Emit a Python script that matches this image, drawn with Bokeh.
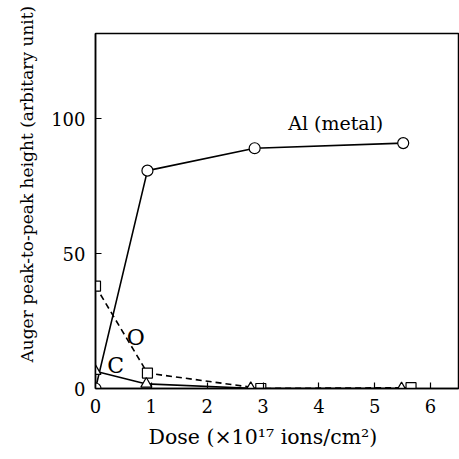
import numpy as np
from bokeh.plotting import figure
from bokeh.models import Label, FixedTicker, Range1d, Title
from bokeh.embed import file_html
from bokeh.resources import INLINE

# Data
al_dose = [0, 0.93, 2.85, 5.51]
al_val = [0, 80.7, 89.0, 90.9]
o_dose = [0, 0.93, 2.96, 5.65]
o_val = [37.9, 5.7, 0.0, 0.3]
c_dose = [0, 0.91, 2.78, 5.48]
c_val = [6.4, 1.7, 0.1, 0.0]
x_ticks = [0, 1, 2, 3, 4, 5, 6]
y_ticks = [0, 50, 100]

FONT = "DejaVu Serif"

p = figure(width=459, height=459, output_backend="svg", toolbar_location=None,
           x_range=Range1d(0, 6.5), y_range=Range1d(0, 131.5),
           min_border_left=95, min_border_right=1, min_border_top=33, min_border_bottom=71)
p.grid.visible = False
p.outline_line_color = "black"
p.outline_line_width = 1.5
p.background_fill_color = "white"
p.border_fill_color = "white"

for ax in (p.xaxis[0], p.yaxis[0]):
    ax.axis_line_width = 1.5
    ax.axis_line_color = "black"
    ax.major_tick_in = 6
    ax.major_tick_out = 0
    ax.minor_tick_line_color = None
    ax.major_tick_line_width = 1.2
    ax.major_tick_line_color = "black"
    ax.major_label_text_font = FONT
    ax.major_label_text_font_size = "18px"
    ax.major_label_text_color = "black"
    ax.major_label_standoff = 10
p.xaxis.ticker = FixedTicker(ticks=x_ticks)
p.yaxis.ticker = FixedTicker(ticks=y_ticks)

# Al (metal)
p.line(al_dose, al_val, line_color="black", line_width=1.6)
p.scatter(al_dose, al_val, marker="circle", size=11, fill_color="white", line_color="black", line_width=1.2)
# O (dashed)
p.line(o_dose, o_val, line_color="black", line_width=1.6, line_dash="6 4")
p.scatter(o_dose, o_val, marker="square", size=10, fill_color="white", line_color="black", line_width=1.2)
# C
p.line(c_dose, c_val, line_color="black", line_width=1.6)
p.scatter(c_dose, c_val, marker="triangle", size=11, fill_color="white", line_color="black", line_width=1.2)

p.add_layout(Label(x=4.3, y=98.5, text="Al (metal)", text_font=FONT, text_font_size="19px",
                   text_color="black", text_align="center", text_baseline="middle"))
p.add_layout(Label(x=0.72, y=18.9, text="O", text_font=FONT, text_font_size="22px",
                   text_color="black", text_align="center", text_baseline="middle"))
p.add_layout(Label(x=0.36, y=8.5, text="C", text_font=FONT, text_font_size="22px",
                   text_color="black", text_align="center", text_baseline="middle"))

# axis titles
p.add_layout(Title(text="Dose (\u00d710\u00b9\u2077 ions/cm\u00b2)", text_font=FONT, text_font_size="20.5px",
                   text_color="black", text_font_style="normal", align="left", offset=53, standoff=15), "below")
p.add_layout(Title(text="Auger peak-to-peak height (arbitary unit)", text_font=FONT, text_font_size="17px",
                   text_color="black", text_font_style="normal", align="left", offset=26, standoff=24), "left")

open("out.html", "w").write(file_html(p, INLINE))
